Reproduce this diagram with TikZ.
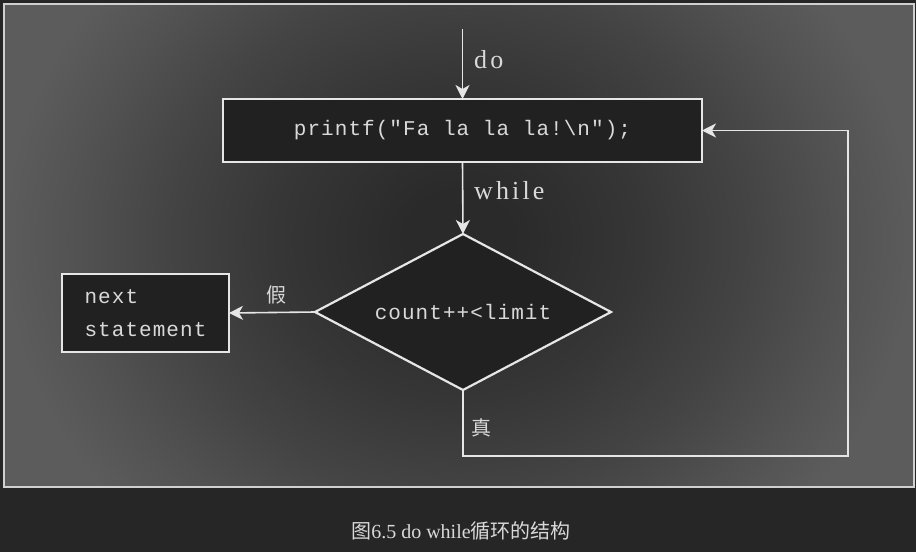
\documentclass[tikz,border=0pt]{standalone}
\usepackage{fontspec}
\setmainfont{Liberation Serif}
\newfontfamily\cjk{Noto Sans CJK SC}
\newfontfamily\codefont[LetterSpace=5]{Liberation Mono}
\newfontfamily\lblfont[LetterSpace=12]{Liberation Serif}
\usetikzlibrary{shapes.geometric,arrows.meta}
\definecolor{bgdark}{HTML}{262626}
\definecolor{boxfill}{HTML}{212121}
\definecolor{linec}{HTML}{E6E6E6}
\definecolor{framec}{HTML}{D0D0D0}
\definecolor{textc}{HTML}{D9D9D9}
\definecolor{shA}{HTML}{2A2A2A}
\definecolor{shB}{HTML}{363636}
\definecolor{shC}{HTML}{444444}
\definecolor{shD}{HTML}{525252}
\definecolor{shE}{HTML}{5C5C5C}
\pgfdeclareradialshading{bgshade}{\pgfpoint{0bp}{0bp}}{color(0bp)=(shA); color(3bp)=(shA); color(10bp)=(shB); color(16bp)=(shC); color(21bp)=(shD); color(25bp)=(shE); color(50bp)=(shE)}
\begin{document}
\begin{tikzpicture}[x=1pt,y=-1pt,
  box/.style={draw=linec, line width=2.2pt, fill=boxfill, text=textc, inner sep=0pt, outer sep=0pt,
    font=\codefont\fontsize{21}{33}\selectfont},
  dec/.style={diamond, draw=linec, line width=2.2pt, fill=boxfill, text=textc, inner sep=0pt, outer sep=0pt,
    aspect=1.9, minimum width=296pt, minimum height=156pt, font=\codefont\fontsize{21}{33}\selectfont},
  flow/.style={draw=linec, line width=1.6pt, -{Stealth[length=14pt,width=14pt,inset=4pt]}},
  lbl/.style={text=textc, inner sep=0pt, font=\lblfont\fontsize{26}{30}\selectfont},
  cn/.style={text=textc, inner sep=0pt, font=\cjk\fontsize{20}{24}\selectfont}]
\fill[bgdark] (0,0) rectangle (916,552);
\useasboundingbox (0,0) rectangle (916,552);
\begin{scope}
  \clip (4,4) rectangle (914,487);
  \shade[shading=bgshade] (4,-160) rectangle (914,640);
\end{scope}
\draw[framec, line width=2pt] (4,4) rectangle (914,487);

\coordinate (top) at (462.5,29);
\node[box, minimum width=479pt, minimum height=63pt] (pf) at (462.5,130.5) {printf("Fa la la la!\textbackslash n");};
\node[dec] (dm) at (463,312) {count++<limit};
\node[box, minimum width=167pt, minimum height=78pt, align=left] (nx) at (145.5,313) {next\\statement};
\coordinate (lc) at (848,456);

\draw[flow] (top) -- (pf.north);
\draw[flow] (pf.south) -- (dm.north);
\draw[flow] (dm.west) -- (nx.east);
\draw[flow] (dm.south) |- (lc) |- (pf.east);

\node[lbl, anchor=west] (ldo) at (474,60) {do};
\node[lbl, anchor=west] (lwhile) at (474,191) {while};
\node[cn] (lf) at (276,295) {假};
\node[cn] (lt) at (481,428) {真};
\node[cn] (cap) at (461,531) {图{\rmfamily 6.5 do while}循环的结构};
\end{tikzpicture}
\end{document}
